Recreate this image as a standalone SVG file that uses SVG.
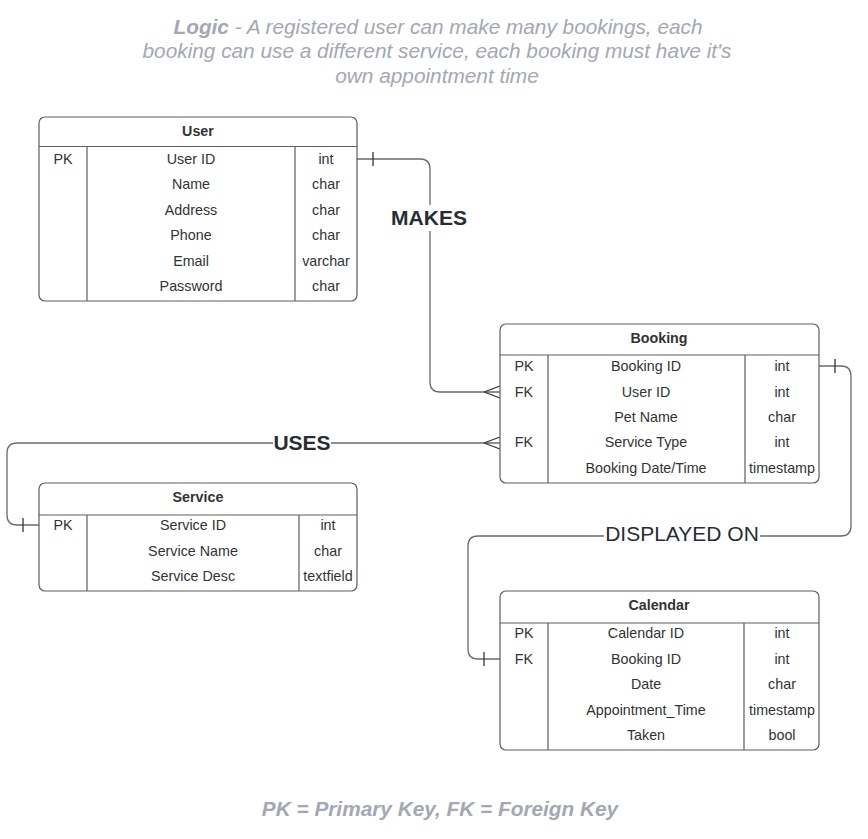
<svg xmlns="http://www.w3.org/2000/svg" width="868" height="839" viewBox="0 0 868 839">
<style>
.box{fill:#fff;stroke:#5e5e5e;stroke-width:1.2}
.ln{stroke:#5e5e5e;stroke-width:1.2;fill:none}
.t{font-family:"Liberation Sans",Arial,sans-serif;font-size:14.3px;fill:#333;text-anchor:middle}
.h{font-weight:bold}
.con{stroke:#6b6b6b;stroke-width:1.3;fill:none}
.mk{stroke:#333;stroke-width:1.3;fill:none}
.lbl{font-family:"Liberation Sans",Arial,sans-serif;font-size:21px;fill:#282c33;text-anchor:middle}
.note{font-family:"Liberation Sans",Arial,sans-serif;font-size:20.8px;fill:#a3a8b3;text-anchor:middle;font-style:italic}
</style>
<rect width="868" height="839" fill="#fff"/>
<g id="title">
<text class="note" x="438" y="34"><tspan font-weight="bold">Logic</tspan> - A registered user can make many bookings, each</text>
<text class="note" x="437" y="58">booking can use a different service, each booking must have it's</text>
<text class="note" x="437" y="83">own appointment time</text>
</g>
<g id="connectors">
<path class="con" d="M357,159 H420 Q430,159 430,169 V382 Q430,392 440,392 H500"/>
<path class="mk" d="M373,152 V166"/>
<path class="mk" d="M484,392 L500,386 M484,392 L500,398"/>
<path class="con" d="M500,443 H17 Q7,443 7,453 V515 Q7,525 17,525 H39"/>
<path class="mk" d="M484,443 L500,437 M484,443 L500,449"/>
<path class="mk" d="M23,518 V532"/>
<path class="con" d="M819,366 H841 Q851,366 851,376 V526 Q851,536 841,536 H478 Q468,536 468,546 V649 Q468,659 478,659 H500"/>
<path class="mk" d="M835,359 V373"/>
<path class="mk" d="M484,652 V666"/>
<rect x="390" y="205" width="78" height="26" fill="#fff"/>
<text class="lbl h" x="429" y="225">MAKES</text>
<rect x="273" y="430" width="58" height="26" fill="#fff"/>
<text class="lbl h" x="302" y="450">USES</text>
<rect x="604" y="522" width="156" height="26" fill="#fff"/>
<text class="lbl" x="682" y="541" font-size="21.5">DISPLAYED ON</text>
</g>
<g id="user">
<rect class="box" x="39" y="117" width="318" height="184" rx="6"/>
<path class="ln" d="M39,146.5 H357 M87,146.5 V301 M295,146.5 V301"/>
<text class="t h" x="198" y="136">User</text>
<text class="t" x="63" y="164">PK</text>
<text class="t" x="191" y="164">User ID</text><text class="t" x="326" y="164">int</text>
<text class="t" x="191" y="189">Name</text><text class="t" x="326" y="189">char</text>
<text class="t" x="191" y="215">Address</text><text class="t" x="326" y="215">char</text>
<text class="t" x="191" y="240">Phone</text><text class="t" x="326" y="240">char</text>
<text class="t" x="191" y="266">Email</text><text class="t" x="326" y="266">varchar</text>
<text class="t" x="191" y="291">Password</text><text class="t" x="326" y="291">char</text>
</g>
<g id="booking">
<rect class="box" x="500" y="324" width="319" height="159" rx="6"/>
<path class="ln" d="M500,355 H819 M548,355 V483 M745,355 V483"/>
<text class="t h" x="659" y="343">Booking</text>
<text class="t" x="524" y="371">PK</text>
<text class="t" x="646" y="371">Booking ID</text><text class="t" x="782" y="371">int</text>
<text class="t" x="524" y="397">FK</text>
<text class="t" x="646" y="397">User ID</text><text class="t" x="782" y="397">int</text>
<text class="t" x="646" y="422">Pet Name</text><text class="t" x="782" y="422">char</text>
<text class="t" x="524" y="447">FK</text>
<text class="t" x="646" y="447">Service Type</text><text class="t" x="782" y="447">int</text>
<text class="t" x="646" y="473">Booking Date/Time</text><text class="t" x="782" y="473">timestamp</text>
</g>
<g id="service">
<rect class="box" x="39" y="483" width="318" height="108" rx="6"/>
<path class="ln" d="M39,515 H357 M87,515 V591 M299,515 V591"/>
<text class="t h" x="198" y="502">Service</text>
<text class="t" x="63" y="530">PK</text>
<text class="t" x="193" y="530">Service ID</text><text class="t" x="328" y="530">int</text>
<text class="t" x="193" y="556">Service Name</text><text class="t" x="328" y="556">char</text>
<text class="t" x="193" y="581">Service Desc</text><text class="t" x="328" y="581">textfield</text>
</g>
<g id="calendar">
<rect class="box" x="500" y="591" width="319" height="159" rx="6"/>
<path class="ln" d="M500,623 H819 M548,623 V750 M744,623 V750"/>
<text class="t h" x="659" y="610">Calendar</text>
<text class="t" x="524" y="638">PK</text>
<text class="t" x="646" y="638">Calendar ID</text><text class="t" x="782" y="638">int</text>
<text class="t" x="524" y="664">FK</text>
<text class="t" x="646" y="664">Booking ID</text><text class="t" x="782" y="664">int</text>
<text class="t" x="646" y="689">Date</text><text class="t" x="782" y="689">char</text>
<text class="t" x="646" y="715">Appointment_Time</text><text class="t" x="782" y="715">timestamp</text>
<text class="t" x="646" y="740">Taken</text><text class="t" x="782" y="740">bool</text>
</g>
<g id="legend">
<text class="note h" x="440" y="816">PK = Primary Key, FK = Foreign Key</text>
</g>
</svg>
